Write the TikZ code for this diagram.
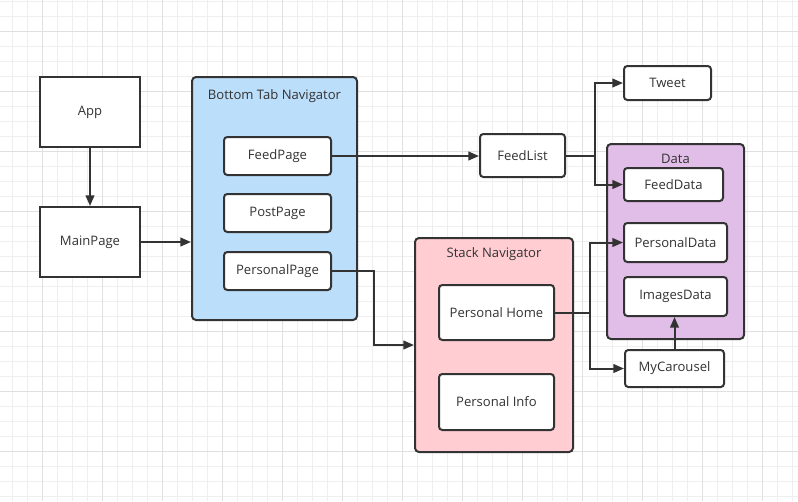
\documentclass[tikz,border=0pt]{standalone}
\usepackage{fontspec}
\setmainfont{Open Sans}
\usetikzlibrary{arrows.meta,fit}
\definecolor{ink}{HTML}{333333}
\definecolor{gridminor}{HTML}{EFEFEF}
\definecolor{gridmajor}{HTML}{E0E0E0}
\definecolor{bluefill}{HTML}{BBDEFB}
\definecolor{pinkfill}{HTML}{FFCDD2}
\definecolor{purplefill}{HTML}{E1BEE7}
\tikzset{
  base/.style={draw=ink, line width=1.5pt, inner sep=0pt, text=ink,
    font=\fontsize{9.8}{11}\selectfont},
  sqbox/.style={base, fill=white},
  rbox/.style={base, fill=white, rounded corners=2.5pt},
  container/.style={base, rounded corners=3pt},
  title/.style={text=ink, font=\fontsize{9.8}{11}\selectfont, inner sep=0pt},
  arr/.style={draw=ink, line width=1.5pt, -{Triangle[length=8pt,width=6.5pt]}},
}
\begin{document}
\begin{tikzpicture}[x=0.75pt,y=-0.75pt]
\useasboundingbox (0,0) rectangle (798,501);
\fill[white] (0,0) rectangle (798,501);
% grid
\foreach \gx in {-3,12,...,800} \draw[gridminor, line width=0.75pt] (\gx,0) -- (\gx,501);
\foreach \gy in {1,16,...,501} \draw[gridminor, line width=0.75pt] (0,\gy) -- (798,\gy);
\foreach \gx in {42,102,...,800} \draw[gridmajor, line width=0.75pt] (\gx,0) -- (\gx,501);
\foreach \gy in {31,91,...,501} \draw[gridmajor, line width=0.75pt] (0,\gy) -- (798,\gy);

% left boxes
\node[sqbox, fit={(40,77) (140,147)}] (app) {};
\node[title] at (app.center) {App};
\node[sqbox, fit={(40,207) (140,277)}] (mainpage) {};
\node[title] at (mainpage.center) {MainPage};

% bottom tab navigator
\node[container, fill=bluefill, fit={(192,77) (357,320)}] (btab) {};
\node[title] (btabtitle) at (274.5,96) {Bottom Tab Navigator};
\node[rbox, fit={(224,137) (331,175)}] (feedpage) {};
\node[title] at (feedpage.center) {FeedPage};
\node[rbox, fit={(224,194) (331,232)}] (postpage) {};
\node[title] at (postpage.center) {PostPage};
\node[rbox, fit={(224,252) (331,290)}] (perspage) {};
\node[title] at (perspage.center) {PersonalPage};

% stack navigator
\node[container, fill=pinkfill, fit={(415,238) (573,452)}] (stack) {};
\node[title] (stacktitle) at (494,254) {Stack Navigator};
\node[rbox, fit={(439,285) (554,340)}] (phome) {};
\node[title] at (phome.center) {Personal Home};
\node[rbox, fit={(439,374) (554,430)}] (pinfo) {};
\node[title] at (pinfo.center) {Personal Info};

% feedlist, tweet
\node[rbox, fit={(480,134) (565,177)}] (feedlist) {};
\node[title] at (feedlist.center) {FeedList};
\node[rbox, fit={(624,66) (711,100)}] (tweet) {};
\node[title] at (tweet.center) {Tweet};

% data
\node[container, fill=purplefill, fit={(607,144) (744,339)}] (data) {};
\node[title] (datatitle) at (675.5,159) {Data};
\node[rbox, fit={(624,168) (723,201)}] (feeddata) {};
\node[title] at (feeddata.center) {FeedData};
\node[rbox, fit={(624,223) (727,262)}] (pdata) {};
\node[title] at (pdata.center) {PersonalData};
\node[rbox, fit={(624,277) (727,316)}] (imgdata) {};
\node[title] at (imgdata.center) {ImagesData};
\node[rbox, fit={(625,350) (724,387)}] (mycar) {};
\node[title] at (mycar.center) {MyCarousel};

% connectors
\draw[arr] (app.south) -- (mainpage.north);
\draw[arr] (mainpage.east) -- (mainpage.east -| btab.west);
\draw[arr] (feedpage.east) -- (feedpage.east -| feedlist.west);
\draw[arr] (perspage.east) -- ++(42,0) |- (stack.west);
\draw[arr] (feedlist.east) -- ++(29,0) |- (tweet.west);
\draw[arr] (feedlist.east) -- ++(29,0) |- (feeddata.west);
\draw[arr] (phome.east) -- ++(35,0) |- (pdata.west);
\draw[arr] (phome.east) -- ++(35,0) |- (mycar.west);
\draw[arr] (mycar.north) -- (mycar.north |- imgdata.south);
\end{tikzpicture}
\end{document}
